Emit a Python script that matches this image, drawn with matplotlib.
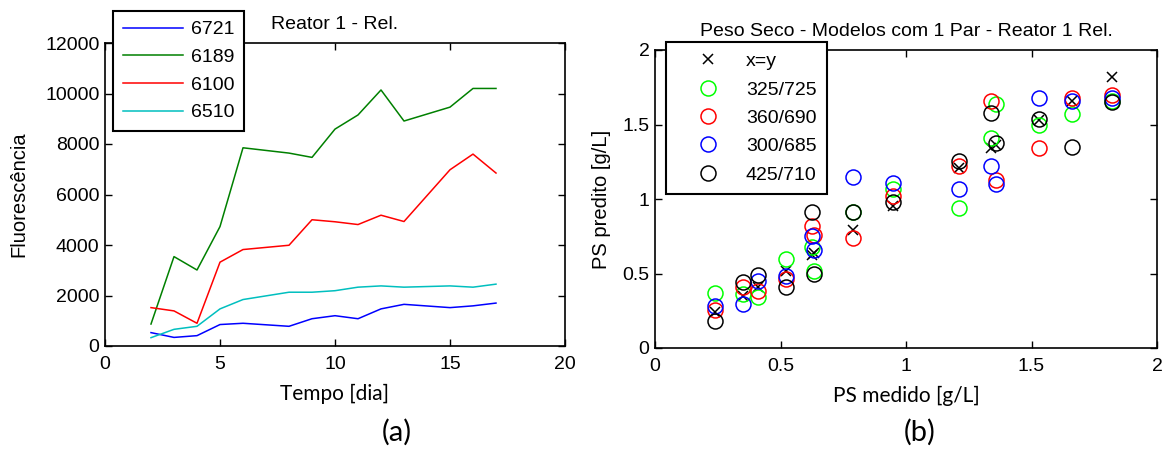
import matplotlib
matplotlib.use("Agg")
import matplotlib.pyplot as plt

# (a) fluorescence vs time
dias = [2, 3, 4, 5, 6, 8, 9, 10, 11, 12, 13, 15, 16, 17]
f_6721 = [530, 340, 410, 850, 900, 780, 1080, 1200, 1080, 1470, 1650, 1520, 1590, 1700]
f_6189 = [870, 3540, 3010, 4730, 7850, 7640, 7470, 8590, 9150, 10140, 8910, 9460, 10200, 10200]
f_6100 = [1520, 1390, 900, 3320, 3820, 3990, 5000, 4920, 4810, 5180, 4930, 6980, 7600, 6850]
f_6510 = [330, 660, 780, 1470, 1840, 2130, 2130, 2190, 2330, 2380, 2330, 2380, 2330, 2450]

# (b) predicted vs measured dry weight
ps_medido = [0.24, 0.35, 0.41, 0.52, 0.625, 0.635, 0.79, 0.95, 1.21, 1.34, 1.36, 1.53, 1.66, 1.82]
pred_325_725 = [0.37, 0.36, 0.34, 0.60, 0.68, 0.52, 0.91, 1.07, 0.94, 1.41, 1.635, 1.50, 1.57, 1.66]
pred_360_690 = [0.255, 0.41, 0.38, 0.46, 0.82, 0.76, 0.74, 1.02, 1.22, 1.66, 1.13, 1.34, 1.68, 1.70]
pred_300_685 = [0.28, 0.295, 0.45, 0.48, 0.75, 0.66, 1.145, 1.105, 1.07, 1.22, 1.10, 1.68, 1.66, 1.68]
pred_425_710 = [0.18, 0.44, 0.49, 0.41, 0.91, 0.50, 0.91, 0.98, 1.255, 1.58, 1.375, 1.54, 1.35, 1.65]

W, H = 1164, 450
TXT = "Liberation Sans"
CAL = "Lato"

plt.rcParams["font.family"] = TXT
plt.rcParams["font.size"] = 14

fig = plt.figure(figsize=(W / 100, H / 100), dpi=100)


def box(l, r, t, b):
    return [l / W, 1 - b / H, (r - l) / W, (b - t) / H]


def estilo(ax):
    for s in ax.spines.values():
        s.set_linewidth(1.2)
    ax.tick_params(direction="in", top=True, right=True, length=5, width=1.0,
                   labelsize=14)
    ax.tick_params(axis="x", pad=7)
    ax.tick_params(axis="y", pad=4)


# ---- (a)
ax1 = fig.add_axes(box(105, 565, 43, 346))
ax1.plot(dias, f_6721, color="#0000ff", lw=1.1, label="6721")
ax1.plot(dias, f_6189, color="#008000", lw=1.1, label="6189")
ax1.plot(dias, f_6100, color="#ff0000", lw=1.1, label="6100")
ax1.plot(dias, f_6510, color="#00bfbf", lw=1.1, label="6510")
ax1.set_xlim(0, 20)
ax1.set_ylim(0, 12000)
ax1.set_xticks([0, 5, 10, 15, 20])
ax1.set_yticks(range(0, 12001, 2000))
estilo(ax1)
ax1.set_title("Reator 1 - Rel.", fontsize=14, pad=10)
ax1.set_xlabel("Tempo [dia]", family=CAL, fontsize=15, labelpad=8)
ax1.set_ylabel("Fluorescência", fontsize=14.5, labelpad=12)
leg1 = ax1.legend(loc="upper left", bbox_to_anchor=(113 / W, 1 - 11 / H),
                  bbox_transform=fig.transFigure, borderaxespad=0,
                  fancybox=False, framealpha=1, edgecolor="black",
                  handlelength=3.1, handletextpad=0.4, labelspacing=0.52,
                  borderpad=0.5, fontsize=14)
leg1.get_frame().set_linewidth(1.5)

# ---- (b)
ax2 = fig.add_axes(box(655, 1157, 50, 348))
ax2.plot(ps_medido, ps_medido, "x", color="black", ms=7.5, mew=1.1, label="x=y")
circ = dict(ls="none", marker="o", ms=10.8, mfc="none", mew=1.1)
ax2.plot(ps_medido, pred_325_725, mec="#00ff00", label="325/725", **circ)
ax2.plot(ps_medido, pred_360_690, mec="#ff0000", label="360/690", **circ)
ax2.plot(ps_medido, pred_300_685, mec="#0000ff", label="300/685", **circ)
ax2.plot(ps_medido, pred_425_710, mec="#000000", label="425/710", **circ)
ax2.set_xlim(0, 2)
ax2.set_ylim(0, 2)
ax2.set_xticks([0, 0.5, 1, 1.5, 2])
ax2.set_xticklabels(["0", "0.5", "1", "1.5", "2"])
ax2.set_yticks([0, 0.5, 1, 1.5, 2])
ax2.set_yticklabels(["0", "0.5", "1", "1.5", "2"])
estilo(ax2)
ax2.set_title("Peso Seco - Modelos com 1 Par - Reator 1 Rel.", fontsize=14, pad=10)
ax2.set_xlabel("PS medido [g/L]", family=CAL, fontsize=15, labelpad=8)
ax2.set_ylabel("PS predito [g/L]", fontsize=14.5, labelpad=8)
leg2 = ax2.legend(loc="upper left", bbox_to_anchor=(666 / W, 1 - 42 / H),
                  bbox_transform=fig.transFigure, borderaxespad=0,
                  fancybox=False, framealpha=1, edgecolor="black",
                  handlelength=3.2, handletextpad=0.35, labelspacing=0.55,
                  borderpad=0.55, fontsize=14)
leg2.get_frame().set_linewidth(1.5)

fig.text(397 / W, 1 - 432 / H, "(a)", family=CAL, fontsize=21, ha="center", va="center")
fig.text(920 / W, 1 - 432 / H, "(b)", family=CAL, fontsize=21, ha="center", va="center")

fig.savefig("out.png", dpi=100)
